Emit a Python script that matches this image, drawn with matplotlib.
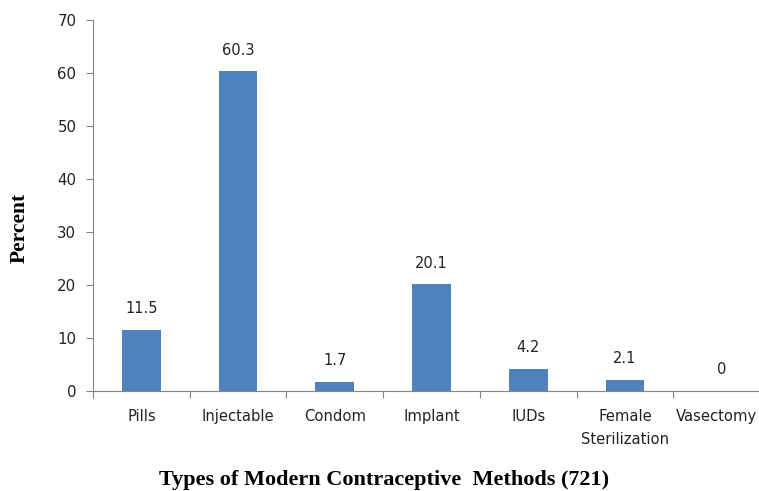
import matplotlib
matplotlib.use("Agg")
import matplotlib.pyplot as plt
from matplotlib.transforms import ScaledTranslation

categories = ["Pills", "Injectable", "Condom", "Implant", "IUDs", "Female\nSterilization", "Vasectomy"]
values = [11.5, 60.3, 1.7, 20.1, 4.2, 2.1, 0]
value_labels = ["11.5", "60.3", "1.7", "20.1", "4.2", "2.1", "0"]
yticks = [0, 10, 20, 30, 40, 50, 60, 70]

fig = plt.figure(figsize=(7.59, 4.91), dpi=100)
ax = fig.add_axes([93/759, 1-391/491, (770-93)/759, (391-20)/491])
x = list(range(len(categories)))
ax.bar(x, values, width=0.4, color="#4F81BD")
ax.set_xlim(-0.5, len(categories)-0.5)
ax.set_ylim(0, 70)
ax.set_yticks(yticks)
ax.set_yticklabels([str(v) for v in yticks])
ax.set_xticks([i - 0.5 for i in range(len(categories)+1)], minor=False)
ax.set_xticklabels([])
ax.set_xticks(x, minor=True)
ax.set_xticklabels(categories, minor=True, fontsize=10.6, linespacing=1.7, color="#222222")
ax.tick_params(axis="x", which="minor", length=0, pad=13)
ax.tick_params(axis="x", which="major", length=5, color="#868686", direction="out")
ax.tick_params(axis="y", length=5, color="#868686", labelsize=10.8, labelcolor="#222222", pad=7)
last = ax.get_xticklabels(minor=True)[-1]
last.set_transform(last.get_transform() + ScaledTranslation(-5/100, 0, fig.dpi_scale_trans))
for s in ["top", "right"]:
    ax.spines[s].set_visible(False)
for s in ["left", "bottom"]:
    ax.spines[s].set_color("#868686")
for xi, v, lab in zip(x, values, value_labels):
    ax.annotate(lab, (xi, v), xytext=(0, 10), textcoords="offset points",
                ha="center", va="bottom", fontsize=10.5, color="#222222")
fig.text(384/759, 1-480/491, "Types of Modern Contraceptive  Methods (721)",
         ha="center", va="center", fontsize=16, fontweight="bold", family="Liberation Serif")
fig.text(20/759, 1-228/491, "Percent", rotation=90, ha="center", va="center",
         fontsize=15.5, fontweight="bold", family="Liberation Serif")
fig.savefig("out.png", dpi=100)
